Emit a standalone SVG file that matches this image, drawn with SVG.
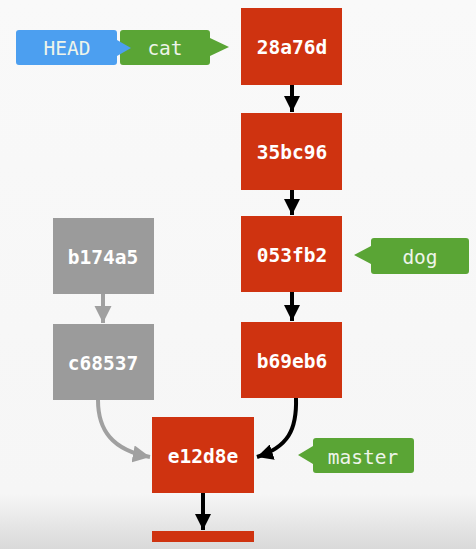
<svg xmlns="http://www.w3.org/2000/svg" width="476" height="549" viewBox="0 0 476 549">
<defs>
<linearGradient id="bg" x1="0" y1="0" x2="0" y2="1">
<stop offset="0" stop-color="#f9f9f9"/>
<stop offset="0.9" stop-color="#f6f6f6"/>
<stop offset="1" stop-color="#d9d9d9"/>
</linearGradient>
<marker id="ab" viewBox="0 0 4 4" refX="4" refY="2" markerWidth="4" markerHeight="4" orient="auto" markerUnits="strokeWidth">
<path d="M0,0 L4,2 L0,4 Z" fill="#000"/>
</marker>
<marker id="ag" viewBox="0 0 4 4" refX="4" refY="2" markerWidth="4.3" markerHeight="4.3" orient="auto" markerUnits="strokeWidth">
<path d="M0,0 L4,2 L0,4 Z" fill="#a0a0a0"/>
</marker>
<style>
.c{fill:#cf3310}
.g{fill:#9b9b9b}
.h{font-family:"DejaVu Sans Mono","Liberation Mono",monospace;font-weight:bold;font-size:19.5px;fill:#fff;text-anchor:middle;dominant-baseline:central}
.l{font-family:"DejaVu Sans Mono","Liberation Mono",monospace;font-size:19.5px;fill:#eef4ea;text-anchor:middle;dominant-baseline:central}
.bk{stroke:#000;stroke-width:4;fill:none;marker-end:url(#ab)}
.gy{stroke:#a0a0a0;stroke-width:4;fill:none;marker-end:url(#ag)}
.gr{fill:#5aa535}
.bl{fill:#4c9ff0}
</style>
</defs>
<rect width="476" height="549" fill="url(#bg)"/>
<g id="connectors">
<line class="bk" x1="292" y1="85" x2="292" y2="112"/>
<line class="bk" x1="292" y1="190" x2="292" y2="215"/>
<line class="bk" x1="292" y1="292" x2="292" y2="321"/>
<line class="gy" x1="103" y1="294" x2="103" y2="323"/>
<path class="bk" d="M296,398 C297,430 288,447 257,457"/>
<path class="gy" d="M98,400 C98,430 112,450 150,457"/>
<line class="bk" x1="203" y1="493" x2="203" y2="530"/>
</g>
<g id="n28a76d"><rect class="c" x="241" y="8" width="101" height="77"/><text class="h" x="292" y="47">28a76d</text></g>
<g id="n35bc96"><rect class="c" x="241" y="113" width="101" height="77"/><text class="h" x="292" y="152">35bc96</text></g>
<g id="n053fb2"><rect class="c" x="241" y="216" width="101" height="76"/><text class="h" x="292" y="255">053fb2</text></g>
<g id="nb69eb6"><rect class="c" x="241" y="322" width="101" height="76"/><text class="h" x="292" y="361">b69eb6</text></g>
<g id="nb174a5"><rect class="g" x="53" y="218" width="101" height="76"/><text class="h" x="103" y="257">b174a5</text></g>
<g id="nc68537"><rect class="g" x="53" y="324" width="101" height="76"/><text class="h" x="103" y="363">c68537</text></g>
<g id="ne12d8e"><rect class="c" x="152" y="417" width="102" height="76"/><text class="h" x="203" y="456">e12d8e</text></g>
<g id="nnext"><rect class="c" x="152" y="531" width="102" height="11"/></g>
<g id="cat"><path class="gr" d="M123,30 H207 a3,3 0 0 1 3,3 V38 L229,47 L210,56 V62 a3,3 0 0 1 -3,3 H123 a3,3 0 0 1 -3,-3 V33 a3,3 0 0 1 3,-3 Z"/><text class="l" x="165" y="48">cat</text></g>
<g id="HEAD"><path class="bl" d="M19,30 H114 a3,3 0 0 1 3,3 V40 L131,48 L117,56 V62 a3,3 0 0 1 -3,3 H19 a3,3 0 0 1 -3,-3 V33 a3,3 0 0 1 3,-3 Z"/><text class="l" x="67" y="48">HEAD</text></g>
<g id="dog"><path class="gr" d="M374,238 H466 a3,3 0 0 1 3,3 V271 a3,3 0 0 1 -3,3 H374 a3,3 0 0 1 -3,-3 V264 L354,255 L371,246 V241 a3,3 0 0 1 3,-3 Z"/><text class="l" x="420" y="257">dog</text></g>
<g id="master"><path class="gr" d="M316,438 H411 a3,3 0 0 1 3,3 V470 a3,3 0 0 1 -3,3 H316 a3,3 0 0 1 -3,-3 V464 L298,455 L313,446 V441 a3,3 0 0 1 3,-3 Z"/><text class="l" x="363" y="457">master</text></g>
</svg>
